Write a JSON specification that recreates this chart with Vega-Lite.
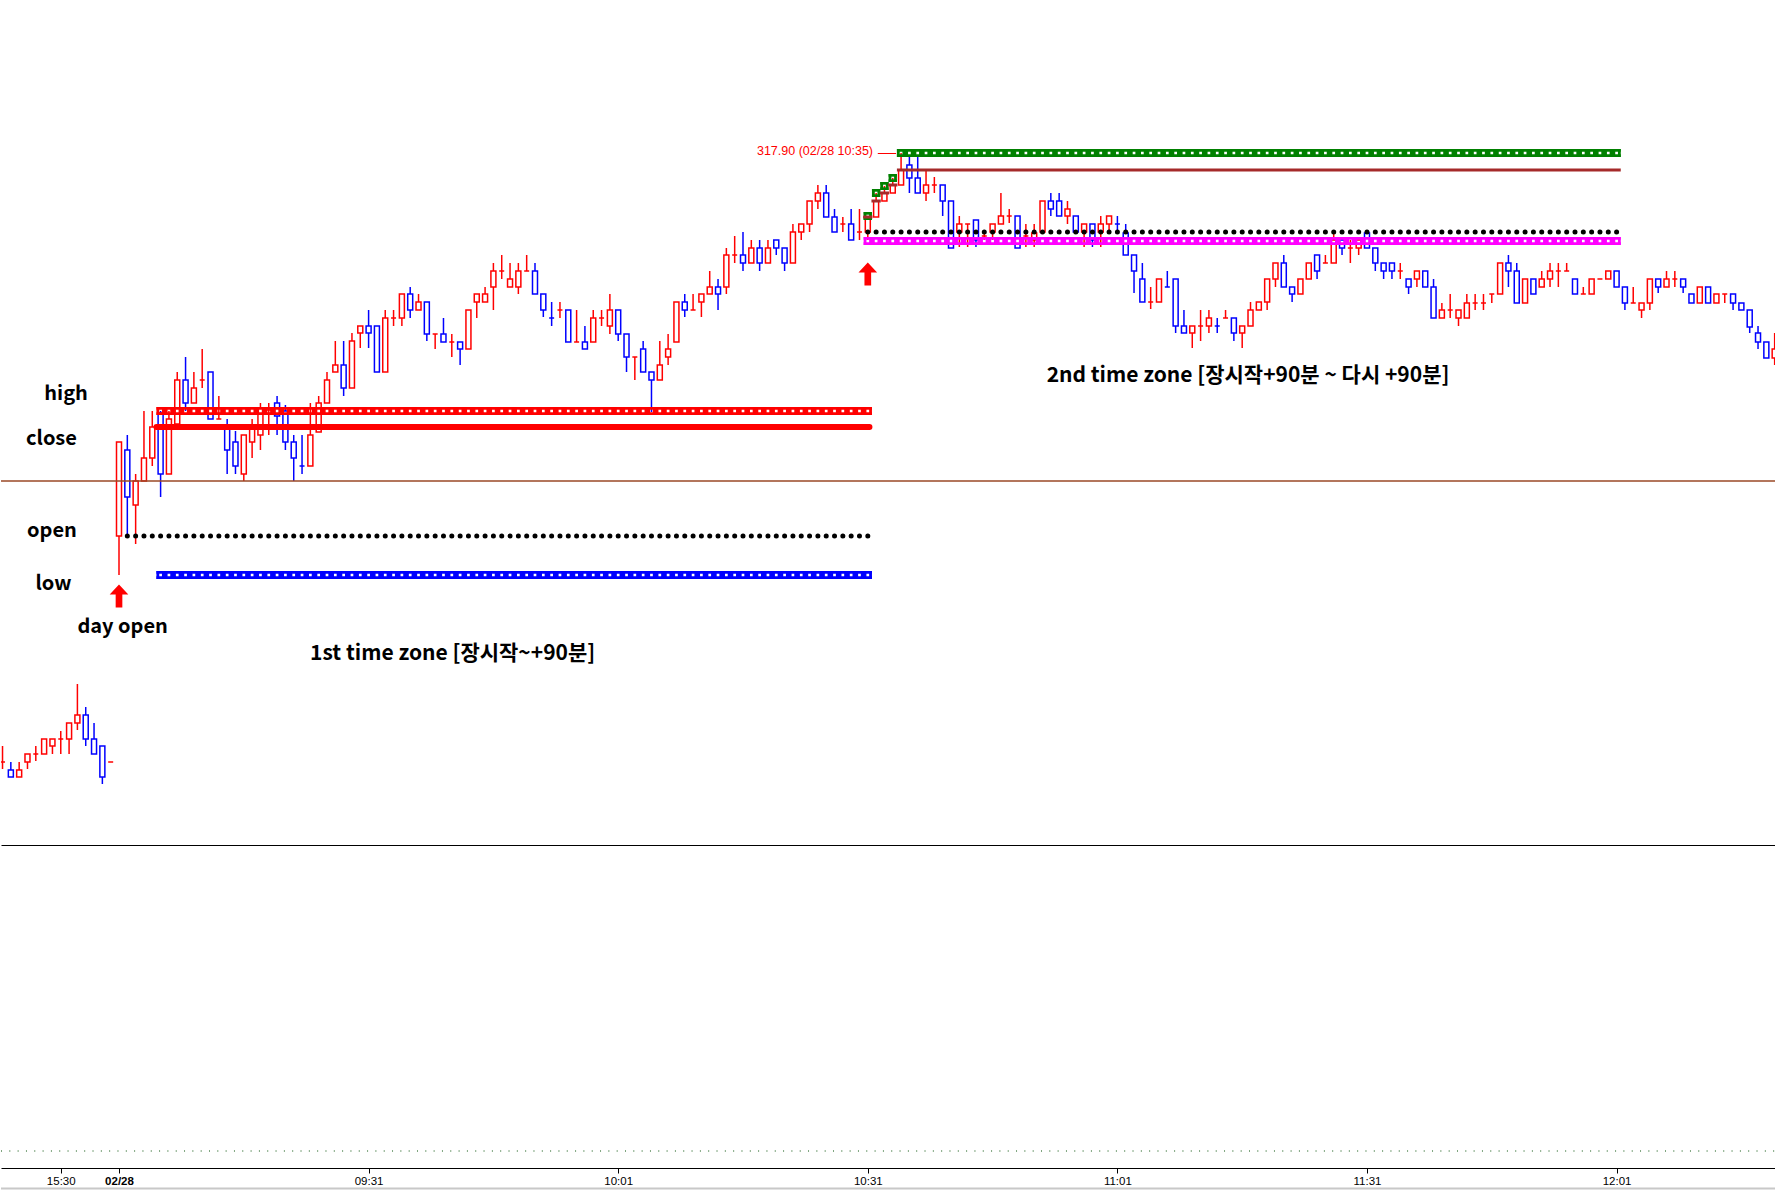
{
 "$schema": "https://vega.github.io/schema/vega-lite/v6.json",
 "background": "white",
 "padding": 0,
 "spacing": 0,
 "config": {"view": {"stroke": null}, "font": "Noto Sans", "scale": {"continuousPadding": 0}},
 "datasets": {
  "candles": [
{"i":-14,"o":311.81,"h":311.97,"l":311.74,"c":311.81},
{"i":-13,"o":311.73,"h":311.81,"l":311.66,"c":311.66},
{"i":-12,"o":311.66,"h":311.81,"l":311.66,"c":311.73},
{"i":-11,"o":311.81,"h":311.89,"l":311.74,"c":311.89},
{"i":-10,"o":311.89,"h":311.97,"l":311.82,"c":311.89},
{"i":-9,"o":311.89,"h":312.04,"l":311.89,"c":312.04},
{"i":-8,"o":311.97,"h":312.04,"l":311.89,"c":312.04},
{"i":-7,"o":312.04,"h":312.12,"l":311.89,"c":312.04},
{"i":-6,"o":312.04,"h":312.2,"l":311.89,"c":312.2},
{"i":-5,"o":312.2,"h":312.59,"l":312.13,"c":312.28},
{"i":-4,"o":312.28,"h":312.36,"l":311.97,"c":312.04},
{"i":-3,"o":312.04,"h":312.2,"l":311.89,"c":311.89},
{"i":-2,"o":311.97,"h":311.97,"l":311.59,"c":311.66},
{"i":-1,"o":311.81,"h":311.81,"l":311.81,"c":311.81},
{"i":0,"o":314.07,"h":315.01,"l":313.68,"c":315.01},
{"i":1,"o":314.93,"h":315.08,"l":314.07,"c":314.46},
{"i":2,"o":314.38,"h":314.69,"l":313.99,"c":314.62},
{"i":3,"o":314.62,"h":315.32,"l":314.62,"c":314.85},
{"i":4,"o":314.85,"h":315.32,"l":314.77,"c":315.16},
{"i":5,"o":315.3,"h":315.32,"l":314.46,"c":314.69},
{"i":6,"o":314.69,"h":315.32,"l":314.69,"c":315.24},
{"i":7,"o":315.19,"h":315.71,"l":315.19,"c":315.63},
{"i":8,"o":315.63,"h":315.86,"l":315.32,"c":315.4},
{"i":9,"o":315.4,"h":315.71,"l":315.4,"c":315.55},
{"i":10,"o":315.63,"h":315.94,"l":315.55,"c":315.63},
{"i":11,"o":315.71,"h":315.71,"l":315.24,"c":315.24},
{"i":12,"o":315.24,"h":315.47,"l":315.24,"c":315.24},
{"i":13,"o":315.16,"h":315.24,"l":314.69,"c":314.93},
{"i":14,"o":315.01,"h":315.12,"l":314.69,"c":314.77},
{"i":15,"o":314.69,"h":315.08,"l":314.62,"c":315.08},
{"i":16,"o":315.01,"h":315.24,"l":314.85,"c":315.16},
{"i":17,"o":315.08,"h":315.4,"l":314.93,"c":315.35},
{"i":18,"o":315.33,"h":315.4,"l":315.08,"c":315.33},
{"i":19,"o":315.4,"h":315.47,"l":315.08,"c":315.27},
{"i":20,"o":315.32,"h":315.38,"l":314.93,"c":315.01},
{"i":21,"o":315.01,"h":315.08,"l":314.62,"c":314.85},
{"i":22,"o":314.77,"h":315.08,"l":314.69,"c":314.77,"dn":1},
{"i":23,"o":314.77,"h":315.4,"l":314.77,"c":315.08},
{"i":24,"o":315.11,"h":315.47,"l":315.11,"c":315.4},
{"i":25,"o":315.4,"h":315.71,"l":315.4,"c":315.63},
{"i":26,"o":315.71,"h":316.02,"l":315.71,"c":315.78},
{"i":27,"o":315.78,"h":316.02,"l":315.47,"c":315.55},
{"i":28,"o":315.55,"h":316.1,"l":315.55,"c":316.02},
{"i":29,"o":316.1,"h":316.17,"l":315.95,"c":316.17},
{"i":30,"o":316.17,"h":316.33,"l":315.95,"c":316.1},
{"i":31,"o":316.17,"h":316.17,"l":315.71,"c":315.71},
{"i":32,"o":315.71,"h":316.33,"l":315.71,"c":316.25},
{"i":33,"o":316.25,"h":316.33,"l":316.17,"c":316.25},
{"i":34,"o":316.25,"h":316.49,"l":316.17,"c":316.49},
{"i":35,"o":316.49,"h":316.56,"l":316.25,"c":316.33},
{"i":36,"o":316.33,"h":316.49,"l":316.33,"c":316.41},
{"i":37,"o":316.41,"h":316.41,"l":316.02,"c":316.09},
{"i":38,"o":316.09,"h":316.09,"l":315.94,"c":316.09},
{"i":39,"o":316.09,"h":316.25,"l":316.01,"c":316.01},
{"i":40,"o":316.01,"h":316.09,"l":315.86,"c":316.01},
{"i":41,"o":316.01,"h":316.01,"l":315.78,"c":315.94},
{"i":42,"o":315.94,"h":316.33,"l":315.94,"c":316.33},
{"i":43,"o":316.41,"h":316.49,"l":316.25,"c":316.49},
{"i":44,"o":316.41,"h":316.56,"l":316.41,"c":316.49},
{"i":45,"o":316.56,"h":316.8,"l":316.33,"c":316.72},
{"i":46,"o":316.72,"h":316.88,"l":316.64,"c":316.72},
{"i":47,"o":316.56,"h":316.8,"l":316.56,"c":316.64},
{"i":48,"o":316.56,"h":316.8,"l":316.49,"c":316.72},
{"i":49,"o":316.72,"h":316.88,"l":316.72,"c":316.72},
{"i":50,"o":316.72,"h":316.8,"l":316.49,"c":316.49},
{"i":51,"o":316.49,"h":316.49,"l":316.26,"c":316.33},
{"i":52,"o":316.25,"h":316.41,"l":316.17,"c":316.25,"dn":1},
{"i":53,"o":316.33,"h":316.41,"l":316.25,"c":316.33},
{"i":54,"o":316.33,"h":316.33,"l":316.01,"c":316.01},
{"i":55,"o":316.01,"h":316.33,"l":316.01,"c":316.01},
{"i":56,"o":316.01,"h":316.17,"l":315.94,"c":315.94},
{"i":57,"o":316.01,"h":316.33,"l":316.01,"c":316.25},
{"i":58,"o":316.25,"h":316.33,"l":316.17,"c":316.25},
{"i":59,"o":316.17,"h":316.49,"l":316.09,"c":316.33},
{"i":60,"o":316.33,"h":316.33,"l":316.02,"c":316.09},
{"i":61,"o":316.09,"h":316.09,"l":315.71,"c":315.86},
{"i":62,"o":315.86,"h":315.86,"l":315.63,"c":315.86},
{"i":63,"o":315.94,"h":316.02,"l":315.71,"c":315.71},
{"i":64,"o":315.71,"h":315.71,"l":315.31,"c":315.63},
{"i":65,"o":315.63,"h":316.02,"l":315.63,"c":315.78},
{"i":66,"o":315.86,"h":316.09,"l":315.78,"c":315.94},
{"i":67,"o":316.01,"h":316.41,"l":316.01,"c":316.41},
{"i":68,"o":316.41,"h":316.49,"l":316.26,"c":316.33},
{"i":69,"o":316.33,"h":316.49,"l":316.33,"c":316.33},
{"i":70,"o":316.41,"h":316.49,"l":316.26,"c":316.49},
{"i":71,"o":316.49,"h":316.72,"l":316.49,"c":316.56},
{"i":72,"o":316.56,"h":316.64,"l":316.33,"c":316.49},
{"i":73,"o":316.56,"h":316.95,"l":316.49,"c":316.88},
{"i":74,"o":316.88,"h":317.07,"l":316.8,"c":316.88},
{"i":75,"o":316.88,"h":317.11,"l":316.72,"c":316.8},
{"i":76,"o":316.8,"h":317.03,"l":316.8,"c":316.95},
{"i":77,"o":316.95,"h":317.03,"l":316.72,"c":316.8},
{"i":78,"o":316.8,"h":317.03,"l":316.8,"c":316.95},
{"i":79,"o":317.03,"h":317.03,"l":316.88,"c":316.95},
{"i":80,"o":316.95,"h":316.95,"l":316.72,"c":316.8},
{"i":81,"o":316.8,"h":317.19,"l":316.8,"c":317.11},
{"i":82,"o":317.11,"h":317.19,"l":317.03,"c":317.19},
{"i":83,"o":317.19,"h":317.42,"l":317.11,"c":317.42},
{"i":84,"o":317.42,"h":317.58,"l":317.34,"c":317.5},
{"i":85,"o":317.5,"h":317.58,"l":317.26,"c":317.26},
{"i":86,"o":317.26,"h":317.34,"l":317.11,"c":317.11},
{"i":87,"o":317.19,"h":317.26,"l":317.11,"c":317.19},
{"i":88,"o":317.19,"h":317.34,"l":317.03,"c":317.03},
{"i":89,"o":317.11,"h":317.34,"l":317.03,"c":317.11},
{"i":90,"o":317.11,"h":317.27,"l":317.03,"c":317.26},
{"i":91,"o":317.26,"h":317.5,"l":317.26,"c":317.42},
{"i":92,"o":317.42,"h":317.57,"l":317.42,"c":317.5},
{"i":93,"o":317.5,"h":317.65,"l":317.5,"c":317.58},
{"i":94,"o":317.58,"h":317.9,"l":317.58,"c":317.73},
{"i":95,"o":317.78,"h":317.88,"l":317.5,"c":317.65},
{"i":96,"o":317.65,"h":317.88,"l":317.5,"c":317.5},
{"i":97,"o":317.5,"h":317.73,"l":317.42,"c":317.58},
{"i":98,"o":317.58,"h":317.66,"l":317.5,"c":317.58},
{"i":99,"o":317.58,"h":317.58,"l":317.27,"c":317.42},
{"i":100,"o":317.42,"h":317.42,"l":316.95,"c":316.95},
{"i":101,"o":317.11,"h":317.27,"l":316.96,"c":317.19},
{"i":102,"o":317.19,"h":317.19,"l":316.96,"c":317.19},
{"i":103,"o":317.23,"h":317.23,"l":316.96,"c":317.03},
{"i":104,"o":317.07,"h":317.11,"l":317.03,"c":317.07},
{"i":105,"o":317.11,"h":317.19,"l":317.03,"c":317.19},
{"i":106,"o":317.19,"h":317.5,"l":317.19,"c":317.27},
{"i":107,"o":317.27,"h":317.34,"l":317.2,"c":317.27},
{"i":108,"o":317.27,"h":317.27,"l":316.95,"c":316.95},
{"i":109,"o":317.07,"h":317.19,"l":316.96,"c":317.07},
{"i":110,"o":317.03,"h":317.19,"l":316.96,"c":317.1},
{"i":111,"o":317.11,"h":317.42,"l":317.11,"c":317.42},
{"i":112,"o":317.42,"h":317.5,"l":317.27,"c":317.34},
{"i":113,"o":317.42,"h":317.5,"l":317.27,"c":317.27},
{"i":114,"o":317.27,"h":317.42,"l":317.19,"c":317.34},
{"i":115,"o":317.27,"h":317.27,"l":317.11,"c":317.11},
{"i":116,"o":317.11,"h":317.19,"l":316.96,"c":317.19},
{"i":117,"o":317.19,"h":317.19,"l":316.96,"c":317.03},
{"i":118,"o":317.11,"h":317.27,"l":316.96,"c":317.19},
{"i":119,"o":317.19,"h":317.27,"l":317.11,"c":317.27},
{"i":120,"o":317.19,"h":317.27,"l":317.11,"c":317.19,"dn":1},
{"i":121,"o":317.1,"h":317.19,"l":316.88,"c":316.88},
{"i":122,"o":316.88,"h":316.88,"l":316.5,"c":316.72},
{"i":123,"o":316.64,"h":316.8,"l":316.41,"c":316.41},
{"i":124,"o":316.41,"h":316.56,"l":316.34,"c":316.41},
{"i":125,"o":316.41,"h":316.64,"l":316.41,"c":316.64},
{"i":126,"o":316.56,"h":316.72,"l":316.56,"c":316.56,"dn":1},
{"i":127,"o":316.64,"h":316.64,"l":316.1,"c":316.17},
{"i":128,"o":316.17,"h":316.33,"l":316.1,"c":316.1},
{"i":129,"o":316.1,"h":316.17,"l":315.95,"c":316.17},
{"i":130,"o":316.17,"h":316.33,"l":316.02,"c":316.17},
{"i":131,"o":316.17,"h":316.33,"l":316.1,"c":316.25},
{"i":132,"o":316.17,"h":316.25,"l":316.1,"c":316.17,"dn":1},
{"i":133,"o":316.25,"h":316.33,"l":316.25,"c":316.25},
{"i":134,"o":316.25,"h":316.25,"l":316.02,"c":316.1},
{"i":135,"o":316.1,"h":316.17,"l":315.95,"c":316.17},
{"i":136,"o":316.17,"h":316.41,"l":316.17,"c":316.33},
{"i":137,"o":316.33,"h":316.41,"l":316.33,"c":316.41},
{"i":138,"o":316.41,"h":316.64,"l":316.33,"c":316.64},
{"i":139,"o":316.64,"h":316.8,"l":316.56,"c":316.8},
{"i":140,"o":316.8,"h":316.88,"l":316.56,"c":316.56},
{"i":141,"o":316.56,"h":316.56,"l":316.41,"c":316.49},
{"i":142,"o":316.49,"h":316.64,"l":316.49,"c":316.64},
{"i":143,"o":316.64,"h":316.8,"l":316.64,"c":316.8},
{"i":144,"o":316.88,"h":316.88,"l":316.64,"c":316.72},
{"i":145,"o":316.8,"h":316.88,"l":316.8,"c":316.8},
{"i":146,"o":316.8,"h":317.1,"l":316.8,"c":317.03},
{"i":147,"o":317.03,"h":317.03,"l":316.88,"c":316.95},
{"i":148,"o":316.95,"h":317.03,"l":316.8,"c":316.95},
{"i":149,"o":316.95,"h":317.03,"l":316.88,"c":317.03},
{"i":150,"o":317.1,"h":317.1,"l":316.95,"c":316.95},
{"i":151,"o":316.95,"h":316.95,"l":316.72,"c":316.8},
{"i":152,"o":316.8,"h":316.8,"l":316.64,"c":316.72},
{"i":153,"o":316.8,"h":316.8,"l":316.64,"c":316.72},
{"i":154,"o":316.72,"h":316.8,"l":316.64,"c":316.72},
{"i":155,"o":316.64,"h":316.64,"l":316.49,"c":316.56},
{"i":156,"o":316.64,"h":316.72,"l":316.56,"c":316.72},
{"i":157,"o":316.72,"h":316.72,"l":316.56,"c":316.56},
{"i":158,"o":316.56,"h":316.64,"l":316.25,"c":316.25},
{"i":159,"o":316.25,"h":316.4,"l":316.25,"c":316.33},
{"i":160,"o":316.33,"h":316.49,"l":316.25,"c":316.33},
{"i":161,"o":316.25,"h":316.33,"l":316.17,"c":316.33},
{"i":162,"o":316.25,"h":316.49,"l":316.25,"c":316.4},
{"i":163,"o":316.4,"h":316.49,"l":316.33,"c":316.4},
{"i":164,"o":316.4,"h":316.49,"l":316.33,"c":316.4},
{"i":165,"o":316.49,"h":316.49,"l":316.4,"c":316.49},
{"i":166,"o":316.49,"h":316.8,"l":316.49,"c":316.8},
{"i":167,"o":316.8,"h":316.88,"l":316.56,"c":316.72},
{"i":168,"o":316.72,"h":316.8,"l":316.4,"c":316.4},
{"i":169,"o":316.4,"h":316.64,"l":316.4,"c":316.64},
{"i":170,"o":316.64,"h":316.64,"l":316.49,"c":316.49},
{"i":171,"o":316.56,"h":316.72,"l":316.56,"c":316.64},
{"i":172,"o":316.64,"h":316.8,"l":316.56,"c":316.72},
{"i":173,"o":316.72,"h":316.8,"l":316.56,"c":316.72},
{"i":174,"o":316.72,"h":316.8,"l":316.72,"c":316.72},
{"i":175,"o":316.64,"h":316.64,"l":316.49,"c":316.49},
{"i":176,"o":316.49,"h":316.56,"l":316.49,"c":316.49},
{"i":177,"o":316.49,"h":316.64,"l":316.49,"c":316.64},
{"i":178,"o":316.64,"h":316.64,"l":316.64,"c":316.64},
{"i":179,"o":316.64,"h":316.72,"l":316.64,"c":316.72},
{"i":180,"o":316.72,"h":316.72,"l":316.56,"c":316.56},
{"i":181,"o":316.56,"h":316.56,"l":316.33,"c":316.4},
{"i":182,"o":316.4,"h":316.56,"l":316.4,"c":316.4},
{"i":183,"o":316.33,"h":316.4,"l":316.25,"c":316.4},
{"i":184,"o":316.4,"h":316.64,"l":316.33,"c":316.64},
{"i":185,"o":316.64,"h":316.64,"l":316.5,"c":316.56},
{"i":186,"o":316.56,"h":316.72,"l":316.56,"c":316.64},
{"i":187,"o":316.64,"h":316.72,"l":316.56,"c":316.64},
{"i":188,"o":316.64,"h":316.64,"l":316.5,"c":316.56},
{"i":189,"o":316.49,"h":316.49,"l":316.4,"c":316.4},
{"i":190,"o":316.4,"h":316.56,"l":316.4,"c":316.56},
{"i":191,"o":316.56,"h":316.56,"l":316.4,"c":316.4},
{"i":192,"o":316.4,"h":316.49,"l":316.4,"c":316.49},
{"i":193,"o":316.49,"h":316.49,"l":316.4,"c":316.49},
{"i":194,"o":316.49,"h":316.49,"l":316.33,"c":316.4},
{"i":195,"o":316.4,"h":316.4,"l":316.33,"c":316.33},
{"i":196,"o":316.33,"h":316.33,"l":316.1,"c":316.16},
{"i":197,"o":316.1,"h":316.17,"l":315.94,"c":316.01},
{"i":198,"o":316.01,"h":316.01,"l":315.85,"c":315.85},
{"i":199,"o":315.85,"h":316.1,"l":315.78,"c":315.94}
  ],
  "levels": [
   {"k":"h1","p":315.32,"a":4.5,"b":90.5},
   {"k":"l1","p":313.68,"a":4.5,"b":90.5},
   {"k":"h2","p":317.27,"a":89.5,"b":90.5},
   {"k":"h2","p":317.5,"a":90.5,"b":91.5},
   {"k":"h2","p":317.57,"a":91.5,"b":92.5},
   {"k":"h2","p":317.65,"a":92.5,"b":93.5},
   {"k":"h2","p":317.9,"a":93.5,"b":180.5},
   {"k":"l2","p":317.02,"a":89.5,"b":180.5}
  ],
  "closes": [
   {"k":"c1","p":315.16,"a":4.5,"b":90.2},
   {"k":"c2","p":317.26,"a":89.44,"b":90.56},
   {"k":"c2","p":317.42,"a":90.44,"b":91.56},
   {"k":"c2","p":317.5,"a":91.44,"b":92.56},
   {"k":"c2","p":317.58,"a":92.44,"b":93.56},
   {"k":"c2","p":317.73,"a":93.5,"b":180.5}
  ],
  "opens": [
   {"p":314.07,"a":1,"b":90.05},
   {"p":317.11,"a":90,"b":180.05}
  ],
  "arrows": [
   {"i":0,"p":313.47},
   {"i":90,"p":316.69}
  ],
  "notes": [
   {"x":-6.36,"p":315.43,"t":"high","z":20},
   {"x":-8.12,"p":314.98,"t":"close","z":20},
   {"x":-8.06,"p":314.06,"t":"open","z":20},
   {"x":-7.88,"p":313.53,"t":"low","z":20},
   {"x":0.44,"p":313.1,"t":"day open","z":20},
   {"x":40.1,"p":312.83,"t":"1st time zone [장시작~+90분]","z":21},
   {"x":135.7,"p":315.61,"t":"2nd time zone [장시작+90분 ~ 다시 +90분]","z":21}
  ],
  "tag": [
   {"x":90.63,"p":317.885,"t":"317.90 (02/28 10:35)","a":91.2,"b":93.4,"q":317.895}
  ]
 },
 "vconcat": [
  {
   "width": 1775,
   "height": 845,
   "layer": [
    {
     "data": {"name": "candles"},
     "mark": {"type": "rule", "strokeWidth": 1.5, "clip": true},
     "encoding": {
      "x": {"field": "i", "type": "quantitative", "scale": {"domain": [-14.183, 199.16], "nice": false, "zero": false, "padding": 0}, "axis": {"domain": true, "domainColor": "#000000", "domainWidth": 1, "ticks": false, "labels": false, "grid": false, "title": null}},
      "y": {"field": "h", "type": "quantitative", "scale": {"domain": [310.98, 319.43], "nice": false, "zero": false, "padding": 0}, "axis": null},
      "y2": {"field": "l"},
      "color": {"condition": {"test": "datum.c > datum.o || (datum.c == datum.o && !datum.dn)", "value": "#ff0000"}, "value": "#0000ff"}
     }
    },
    {
     "data": {"name": "candles"},
     "mark": {"type": "bar", "width": 5, "fill": "white", "strokeWidth": 1.5, "clip": true},
     "encoding": {
      "x": {"field": "i", "type": "quantitative"},
      "y": {"field": "o", "type": "quantitative", "axis": null},
      "y2": {"field": "c"},
      "stroke": {"condition": {"test": "datum.c > datum.o || (datum.c == datum.o && !datum.dn)", "value": "#ff0000"}, "value": "#0000ff"}
     }
    },
    {
     "data": {"values": [{"a": -14.183, "b": 199.16, "p": 314.62}]},
     "mark": {"type": "rule", "stroke": "#9a4826", "strokeWidth": 1.3},
     "encoding": {
      "x": {"field": "a", "type": "quantitative"},
      "x2": {"field": "b"},
      "y": {"field": "p", "type": "quantitative", "axis": null}
     }
    },
    {
     "data": {"name": "levels"},
     "mark": {"type": "rule", "strokeWidth": 8, "strokeDash": [5.62, 2.7], "strokeDashOffset": 2.81, "strokeCap": "butt"},
     "encoding": {
      "x": {"field": "a", "type": "quantitative"},
      "x2": {"field": "b"},
      "y": {"field": "p", "type": "quantitative", "axis": null},
      "color": {"field": "k", "type": "nominal", "scale": {"domain": ["h1", "l1", "h2", "l2"], "range": ["#ff0000", "#0000ff", "#008000", "#ff00ff"]}, "legend": null}
     }
    },
    {
     "data": {"name": "levels"},
     "mark": {"type": "rule", "strokeWidth": 2.7, "yOffset": -2.65, "strokeCap": "butt"},
     "encoding": {
      "x": {"field": "a", "type": "quantitative"},
      "x2": {"field": "b"},
      "y": {"field": "p", "type": "quantitative", "axis": null},
      "color": {"field": "k", "type": "nominal", "legend": null}
     }
    },
    {
     "data": {"name": "levels"},
     "mark": {"type": "rule", "strokeWidth": 2.7, "yOffset": 2.65, "strokeCap": "butt"},
     "encoding": {
      "x": {"field": "a", "type": "quantitative"},
      "x2": {"field": "b"},
      "y": {"field": "p", "type": "quantitative", "axis": null},
      "color": {"field": "k", "type": "nominal", "legend": null}
     }
    },
    {
     "data": {"name": "closes"},
     "transform": [{"filter": "datum.k == 'c1'"}],
     "mark": {"type": "rule", "strokeWidth": 6, "strokeCap": "round", "stroke": "#ff0000"},
     "encoding": {
      "x": {"field": "a", "type": "quantitative"},
      "x2": {"field": "b"},
      "y": {"field": "p", "type": "quantitative", "axis": null}
     }
    },
    {
     "data": {"name": "closes"},
     "transform": [{"filter": "datum.k == 'c2'"}],
     "mark": {"type": "rule", "strokeWidth": 3, "strokeCap": "butt", "stroke": "#a52a2a"},
     "encoding": {
      "x": {"field": "a", "type": "quantitative"},
      "x2": {"field": "b"},
      "y": {"field": "p", "type": "quantitative", "axis": null}
     }
    },
    {
     "data": {"name": "opens"},
     "mark": {"type": "rule", "strokeWidth": 5, "strokeCap": "round", "strokeDash": [0.01, 8.31], "stroke": "#000000"},
     "encoding": {
      "x": {"field": "a", "type": "quantitative"},
      "x2": {"field": "b"},
      "y": {"field": "p", "type": "quantitative", "axis": null}
     }
    },
    {
     "data": {"name": "arrows"},
     "mark": {"type": "point", "shape": "M0,-1L0.81,-0.13L0.29,-0.13L0.29,1L-0.29,1L-0.29,-0.13L-0.81,-0.13Z", "size": 529, "filled": true, "color": "#ff0000", "opacity": 1, "strokeWidth": 0},
     "encoding": {
      "x": {"field": "i", "type": "quantitative"},
      "y": {"field": "p", "type": "quantitative", "axis": null}
     }
    },
    {
     "data": {"name": "notes"},
     "mark": {"type": "text", "font": "Noto Sans CJK KR", "fontWeight": "bold", "align": "center", "baseline": "alphabetic", "color": "#000000"},
     "encoding": {
      "x": {"field": "x", "type": "quantitative"},
      "y": {"field": "p", "type": "quantitative", "axis": null},
      "text": {"field": "t"},
      "size": {"field": "z", "type": "quantitative", "scale": null, "legend": null}
     }
    },
    {
     "data": {"name": "tag"},
     "mark": {"type": "text", "font": "Liberation Sans, Arial, sans-serif", "fontSize": 12.5, "align": "right", "baseline": "alphabetic", "color": "#ff0000"},
     "encoding": {
      "x": {"field": "x", "type": "quantitative"},
      "y": {"field": "p", "type": "quantitative", "axis": null},
      "text": {"field": "t"}
     }
    },
    {
     "data": {"name": "tag"},
     "mark": {"type": "rule", "strokeWidth": 1, "stroke": "#ff0000"},
     "encoding": {
      "x": {"field": "a", "type": "quantitative"},
      "x2": {"field": "b"},
      "y": {"field": "q", "type": "quantitative", "axis": null}
     }
    }
   ]
  },
  {
   "width": 1775,
   "height": 323,
   "data": {"values": [{"a": -14.183, "b": 199.16, "z": 0, "g": -2.2}]},
   "layer": [
    {
     "mark": {"type": "rule", "stroke": "#004d00", "strokeWidth": 1, "strokeDash": [1, 7.32]},
     "encoding": {
      "x": {
       "field": "a", "type": "quantitative",
       "scale": {"domain": [-14.183, 199.16], "nice": false, "zero": false, "padding": 0},
       "axis": {
        "values": [-7, 0, 30, 60, 90, 120, 150, 180],
        "labelExpr": "datum.value == -7 ? '15:30' : datum.value == 0 ? '02/28' : datum.value == 30 ? '09:31' : datum.value == 60 ? '10:01' : datum.value == 90 ? '10:31' : datum.value == 120 ? '11:01' : datum.value == 150 ? '11:31' : '12:01'",
        "tickSize": 5, "tickColor": "#000000", "domainColor": "#000000", "labelColor": "#000000",
        "labelFont": "Liberation Sans, Arial, sans-serif", "labelFontSize": 11.5, "labelPadding": 2,
        "labelFontWeight": {"condition": {"test": "datum.value == 0", "value": "bold"}, "value": "normal"},
        "grid": false, "title": null, "labelOverlap": false, "labelFlush": false
       }
      },
      "x2": {"field": "b"},
      "y": {"field": "z", "type": "quantitative", "scale": {"domain": [-1, 18], "nice": false, "zero": false}, "axis": null}
     }
    },
    {
     "mark": {"type": "rule", "stroke": "#c8c8c8", "strokeWidth": 2},
     "encoding": {
      "x": {"field": "a", "type": "quantitative"},
      "x2": {"field": "b"},
      "y": {"field": "g", "type": "quantitative", "axis": null}
     }
    }
   ]
  }
 ]
}
